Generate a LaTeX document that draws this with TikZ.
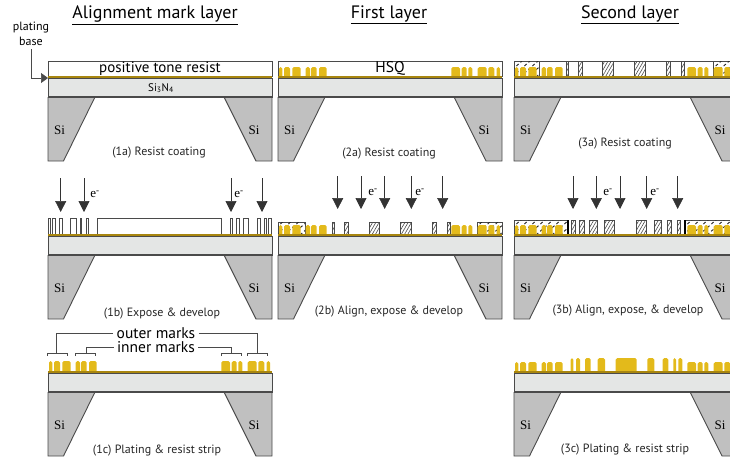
\documentclass[tikz,border=0pt]{standalone}
\usepackage{fontspec}
\setmainfont{PT Sans}
\newfontfamily\siserif{Liberation Serif}
\usetikzlibrary{arrows.meta,patterns.meta}
\definecolor{goldfill}{HTML}{E3BA1B}
\definecolor{platebrown}{HTML}{A8860F}
\definecolor{nitride}{HTML}{E4E6E5}
\definecolor{siliconfill}{HTML}{C0C0C0}
\definecolor{edgegray}{HTML}{4A4A4A}
\tikzset{
	siedge/.style={draw=edgegray, line width=0.9pt, line join=miter},
	goldmark/.style={fill=goldfill},
	resistbox/.style={draw=edgegray, fill=white, line width=0.9pt},
	hatchbar/.style={draw=edgegray, line width=0.8pt, pattern={Lines[angle=60,distance=2.8pt,line width=0.6pt]}, pattern color=edgegray},
	hatchdash/.style={black!85, line width=0.9pt, dash pattern=on 3pt off 2.5pt},
	ebeam/.style={-{Triangle[width=11pt,length=11pt]}, line width=0.7pt, black!80},
	bracketline/.style={edgegray, line width=0.7pt},
	title/.style={font=\fontsize{18}{21}\selectfont},
	caption/.style={font=\fontsize{12}{14}\selectfont, text=black!85},
	silabel/.style={font=\siserif\fontsize{13}{15}\selectfont},
	elabel/.style={font=\siserif\fontsize{13}{15}\selectfont}
}
% membrane, plating base and the two silicon feet
\newcommand{\wafer}[1]{
	\fill[siliconfill] (0,19) -- (47,19) -- (15.5,83) -- (0,83) -- cycle;
	\fill[siliconfill] (176,19) -- (224,19) -- (224,83) -- (208,83) -- cycle;
	\draw[siedge] (47,19) -- (15.5,83) -- (0,83) -- (0,19);
	\draw[siedge] (176,19) -- (208,83) -- (224,83) -- (224,19);
	\fill[nitride] (0,0) rectangle (224,19);
	\draw[siedge] (0,0) rectangle (224,19);
	\draw[line width=1.4pt, edgegray] (0,19) -- (224,19);
	\fill[platebrown] (0,-1.8) rectangle (224,0);
	\node[silabel] (si#1l) at (11.5,52) {Si};
	\node[silabel] (si#1r) at (206,52.5) {Si};
}
% the twelve alignment marks, #1 is the height
\newcommand{\goldmarks}[1]{
	\foreach \a/\b in {1/4.3, 6/12, 14.3/22.7, 27.7/32, 33/38.7, 41/48.7, 173.3/182, 183.7/188.7, 190.3/194.3, 199.7/208.7, 210.3/216.3, 218.7/222} {
		\fill[goldmark] (\a,-1) [rounded corners=1.6pt] -- (\a,-#1) -- (\b,-#1) [sharp corners] -- (\b,-1) -- cycle;
	}
}
% resist block with dashed diagonals over outer marks: x from, x to, height
\newcommand{\bighatch}[3]{
	\draw[resistbox] (#1,-1.5) rectangle (#2,-#3);
	\begin{scope}
		\clip (#1,-1.5) rectangle (#2,-#3);
		\foreach \d in {-10,-2,...,60} {
			\draw[hatchdash] (#1+\d,-1) -- ++(18,-16);
		}
	\end{scope}
}
\begin{document}
\begin{tikzpicture}[x=1pt,y=-1pt]
	\useasboundingbox (0,0) rectangle (730,459);
	\clip (0,0) rectangle (730,459);
	\node[title] (titlea) at (155,15) {\underline{Alignment mark layer}};
	\node[title] (titleb) at (389,15) {\underline{First layer}};
	\node[title] (titlec) at (630,15) {\underline{Second layer}};

	% COLUMN 1
	\begin{scope}[shift={(48,78)}]
		\draw[resistbox] (0,-1.6) rectangle (224,-17);
		\wafer{oa}
		\node[font=\fontsize{15}{17}\selectfont] (resist) at (112,-9) {positive tone resist};
		\node[font=\fontsize{11}{13}\selectfont] (nitride) at (113,10) {Si\textsubscript{3}N\textsubscript{4}};
	\end{scope}
	\node[caption] (capa) at (159,153) {(1a) Resist coating};
	\node[align=center, font=\fontsize{12}{15}\selectfont] (platingbase) at (31,34) {plating\\base};
	\coordinate (baseend) at (48,78);
	\draw[-{Triangle[width=10pt,length=7pt]}, line width=0.7pt, edgegray] (platingbase.south) |- (baseend);

	\begin{scope}[shift={(48,236)}]
		\foreach \a/\b in {0/2.5, 4.5/7, 11.5/14, 22.5/28, 32/33.5, 38.7/40.7, 182/184, 188.7/191.3, 195.3/200.7, 209.3/212, 216/218.7, 220.7/223.3} {
			\draw[resistbox] (\a,-1.5) rectangle (\b,-18);
		}
		\draw[resistbox, line width=1pt] (49.7,-1.5) rectangle (173.7,-18);
		\wafer{ob}
	\end{scope}
	\foreach \x in {60.7,84,231,262} {
		\draw[ebeam] (\x,178) -- (\x,212);
	}
	\node[elabel] (ea) at (95,194) {e\textsuperscript{-}};
	\node[elabel] (eb) at (239,194) {e\textsuperscript{-}};
	\node[caption] (capb) at (162,314) {(1b) Expose \& develop};

	\begin{scope}[shift={(48,373)}]
		\goldmarks{12}
		\wafer{oc}
	\end{scope}
	\node[caption] (capc) at (157,451) {(1c) Plating \& resist strip};
	\node[font=\fontsize{15.5}{17}\selectfont] (outermarks) at (156,333) {outer marks};
	\node[font=\fontsize{15.5}{17}\selectfont] (innermarks) at (156,347) {inner marks};
	\foreach \a/\b in {47.7/67.7, 75.7/95.7, 221.7/241, 247.7/267.7} {
		\draw[bracketline] (\a,356) -- (\a,353) -- (\b,353) -- (\b,356);
	}
	\coordinate (outerl) at (56.7,353);
	\coordinate (innerl) at (86,353);
	\coordinate (innerr) at (231.7,353);
	\coordinate (outerr) at (257.3,353);
	\draw[bracketline] (outermarks.west) -| (outerl);
	\draw[bracketline] (innermarks.west) -| (innerl);
	\draw[bracketline] (innermarks.east) -| (innerr);
	\draw[bracketline] (outermarks.east) -| (outerr);

	% COLUMN 2
	\begin{scope}[shift={(278,78)}]
		\draw[resistbox] (0,-1.6) rectangle (224,-17);
		\goldmarks{11}
		\wafer{ta}
		\node[font=\fontsize{15.5}{17}\selectfont] (hsq) at (112,-9.5) {HSQ};
	\end{scope}
	\node[caption] (capd) at (389,154) {(2a) Resist coating};

	\begin{scope}[shift={(278,236)}]
		\bighatch{0}{27}{14}
		\bighatch{199.3}{224}{14}
		\goldmarks{11}
		\foreach \a/\b in {54/56.7, 66.3/70.7, 91/101.3, 122.7/133, 154.3/158, 169.3/172} {
			\draw[hatchbar] (\a,-1.5) rectangle (\b,-14);
		}
		\wafer{tb}
	\end{scope}
	\foreach \x in {337.7,361,384.7,411.3,442.7} {
		\draw[ebeam] (\x,176) -- (\x,209);
	}
	\node[elabel] (ec) at (373,192) {e\textsuperscript{-}};
	\node[elabel] (ed) at (420,192) {e\textsuperscript{-}};
	\node[caption] (cape) at (389,312) {(2b) Align, expose \& develop};

	% COLUMN 3
	\begin{scope}[shift={(514,78)}]
		\draw[resistbox] (0,-1.6) rectangle (224,-17);
		\bighatch{0}{25.3}{17}
		\bighatch{199.3}{224}{17}
		\goldmarks{11}
		\foreach \a/\b in {52/54, 64.3/68.7, 88.7/99.3, 120.3/131, 152/156, 167/170} {
			\draw[hatchbar] (\a,-1.5) rectangle (\b,-17);
		}
		\wafer{ha}
	\end{scope}
	\node[caption] (capf) at (625,144) {(3a) Resist coating};

	\begin{scope}[shift={(514,236)}]
		\bighatch{0}{54}{16}
		\bighatch{171}{224}{16}
		\goldmarks{11}
		\draw[line width=1.2pt, black] (54,-1.5) -- (54,-16) (171,-1.5) -- (171,-16);
		\foreach \a/\b in {57.7/61, 65.3/70, 75.3/83.3, 90/100.3, 122/132.7, 140/147.7, 153.3/157.7, 163.3/166} {
			\draw[hatchbar] (\a,-1.5) rectangle (\b,-16);
		}
		\wafer{hb}
	\end{scope}
	\foreach \x in {573,596.3,620,646.7,677.7} {
		\draw[ebeam] (\x,176) -- (\x,209);
	}
	\node[elabel] (ee) at (608,192) {e\textsuperscript{-}};
	\node[elabel] (ef) at (655,192) {e\textsuperscript{-}};
	\node[caption] (capg) at (628,311) {(3b) Align, expose, \& develop};

	\begin{scope}[shift={(514,373)}]
		\goldmarks{11}
		\foreach \a/\b in {56.7/59.3, 62/66, 71/76.7, 83.7/91, 101.7/122.7, 133.3/140.3, 148.7/154.3, 159.3/162, 164.3/168.3} {
			\fill[goldmark] (\a,-1) [rounded corners=1.6pt] -- (\a,-15) -- (\b,-15) [sharp corners] -- (\b,-1) -- cycle;
		}
		\wafer{hc}
	\end{scope}
	\node[caption] (caph) at (625,450) {(3c) Plating \& resist strip};
\end{tikzpicture}
\end{document}
